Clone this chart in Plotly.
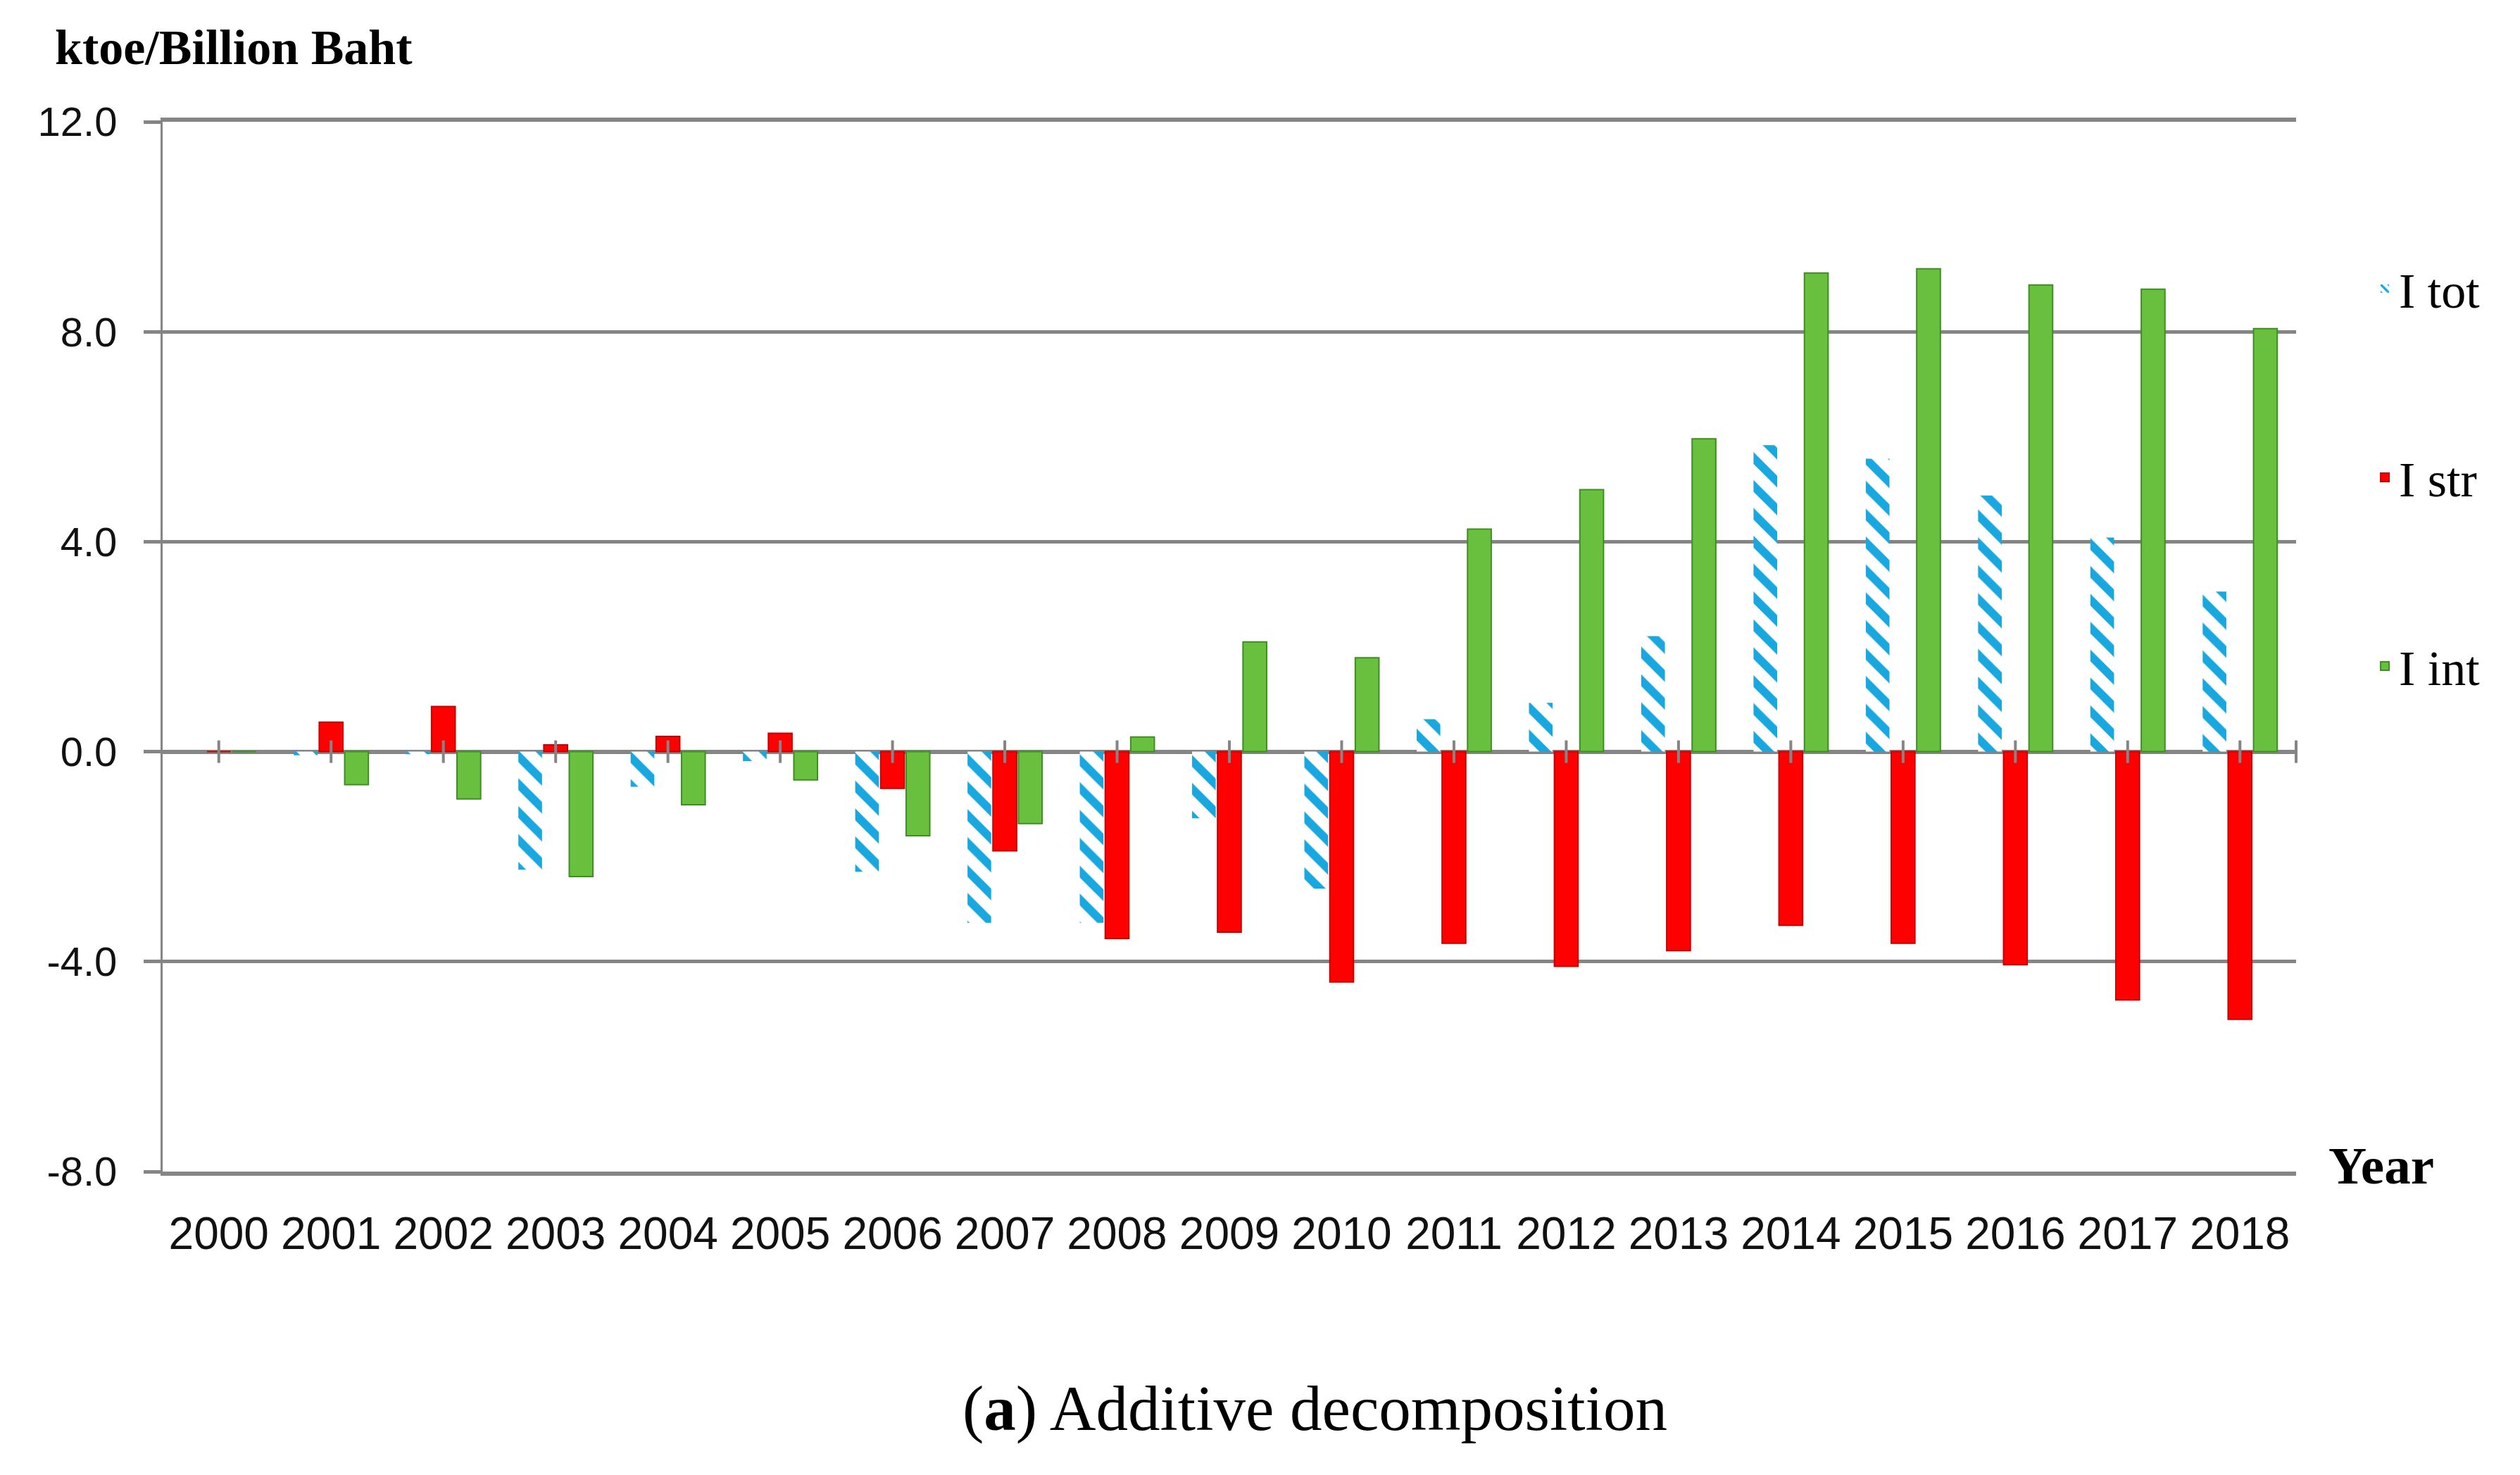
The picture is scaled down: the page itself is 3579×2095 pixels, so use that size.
import plotly.graph_objects as go

years = [str(y) for y in range(2000, 2019)]
i_tot = [0.0, -0.07, -0.05, -2.25, -0.67, -0.18, -2.29, -3.26, -3.26, -1.27, -2.61,
         0.62, 0.93, 2.20, 5.84, 5.58, 4.88, 4.08, 3.05]
i_str = [0.0, 0.56, 0.86, 0.13, 0.29, 0.35, -0.70, -1.89, -3.56, -3.44, -4.39,
         -3.65, -4.09, -3.79, -3.31, -3.65, -4.06, -4.73, -5.10]
i_int = [0.0, -0.63, -0.90, -2.38, -1.01, -0.54, -1.60, -1.37, 0.28, 2.09, 1.79,
         4.24, 4.99, 5.96, 9.12, 9.20, 8.89, 8.81, 8.06]
series_names = ["I tot", "I str", "I int"]
y_tickvals = [-8, -4, 0, 4, 8, 12]
y_ticktext = ["-8.0", "-4.0", "0.0", "4.0", "8.0", "12.0"]

GRID = "#858585"
SERIF = "Liberation Serif, Times New Roman, serif"
SANS = "Liberation Sans, Arial, sans-serif"

fig = go.Figure()
fig.add_trace(go.Bar(
    x=years, y=i_tot, name=series_names[0], legendgroup="a",
    marker=dict(color="white", line=dict(width=0),
                pattern=dict(shape="\\", fgcolor="#19A7E0", bgcolor="white",
                             size=28, solidity=0.42, fillmode="replace")),
))
fig.add_trace(go.Bar(
    x=years, y=i_str, name=series_names[1], legendgroup="b",
    marker=dict(color="#FF0000", line=dict(color="#C80000", width=2)),
))
fig.add_trace(go.Bar(
    x=years, y=i_int, name=series_names[2], legendgroup="c",
    marker=dict(color="#69C03F", line=dict(color="#3E8E22", width=2)),
))

# small tick marks crossing the zero line at each category (category index positions)
for idx, _yr in enumerate(years):
    fig.add_shape(type="line", xref="x", x0=idx, x1=idx, yref="y",
                  ysizemode="pixel", yanchor=0, y0=-16, y1=16,
                  line=dict(color=GRID, width=4))
fig.add_shape(type="line", xref="paper", x0=1, x1=1, yref="y",
              ysizemode="pixel", yanchor=0, y0=-16, y1=16,
              line=dict(color=GRID, width=4))

fig.update_layout(
    width=3579, height=2095,
    paper_bgcolor="white", plot_bgcolor="white",
    margin=dict(l=223, r=326, t=165, b=439),
    barmode="group", bargap=0.32, bargroupgap=0.07,
    showlegend=True,
    legend=dict(x=1.035, xanchor="left", y=0.876, yanchor="top",
                traceorder="grouped", tracegroupgap=174,
                font=dict(family=SERIF, size=70, color="black"),
                bgcolor="rgba(0,0,0,0)"),
    font=dict(family=SANS, color="#1a1a1a"),
)
fig.update_xaxes(
    type="category", range=[-0.5, len(years) - 0.5],
    showgrid=False, showline=True, mirror=True,
    linecolor=GRID, linewidth=6, ticks="", ticklabelstandoff=27,
    tickfont=dict(family=SANS, size=64, color="#111111"),
    zeroline=False,
)
fig.update_yaxes(
    range=[-8, 12], tickvals=y_tickvals, ticktext=y_ticktext,
    showgrid=True, gridcolor=GRID, gridwidth=5,
    zeroline=True, zerolinecolor=GRID, zerolinewidth=6,
    showline=True, linecolor=GRID, linewidth=3,
    ticks="outside", ticklen=24, tickwidth=5, tickcolor=GRID,
    ticklabelstandoff=26,
    tickfont=dict(family=SANS, size=58, color="#111111"),
)

fig.add_annotation(text="<b>ktoe/Billion Baht</b>", xref="paper", yref="paper",
                   x=-0.051, y=1.071, xanchor="left", yanchor="middle",
                   showarrow=False, font=dict(family=SERIF, size=70, color="black"))
fig.add_annotation(text="<b>Year</b>", xref="paper", yref="paper",
                   x=1.040, y=0.006, xanchor="center", yanchor="middle",
                   showarrow=False, font=dict(family=SERIF, size=75, color="black"))
fig.add_annotation(text="(<b>a</b>) Additive decomposition", xref="paper", yref="paper",
                   x=0.540, y=-0.226, xanchor="center", yanchor="middle",
                   showarrow=False, font=dict(family=SERIF, size=91, color="black"))

fig.write_html("out.html")
